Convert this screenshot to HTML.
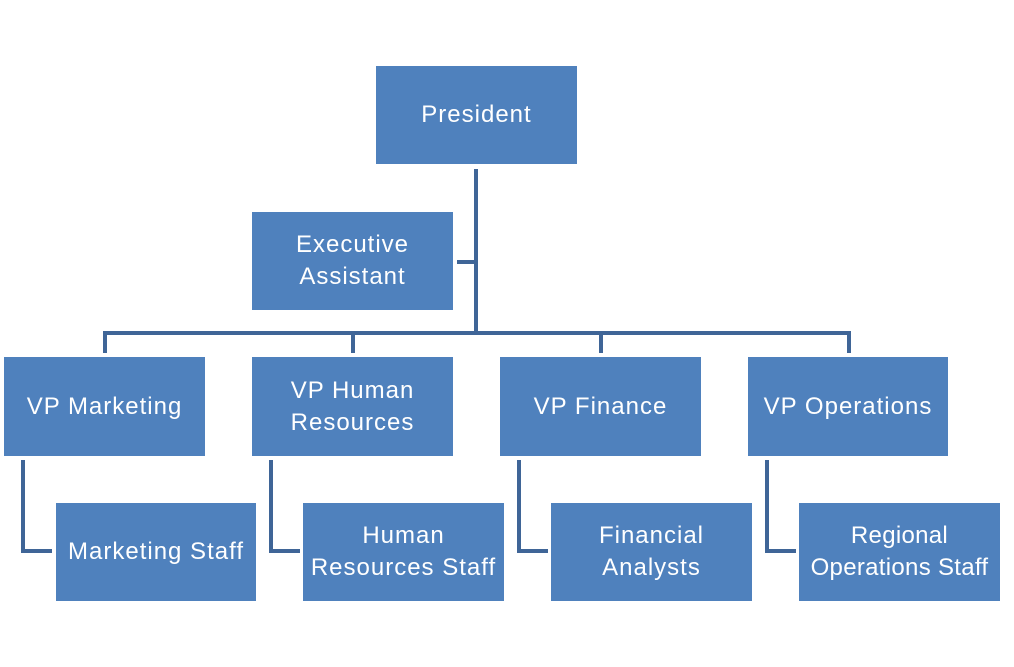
<!DOCTYPE html>
<html><head><style>
body{margin:0;background:#fff;width:1014px;height:667px;position:relative;overflow:hidden;font-family:"Liberation Sans",sans-serif}
.b{position:absolute;background:#4F81BD;color:#fff;display:flex;align-items:center;justify-content:center;text-align:center;font-size:24px;letter-spacing:1px;line-height:32px}
svg{position:absolute;left:0;top:0}
</style></head><body>
<svg width="1014" height="667"><g stroke="#3F6597" stroke-width="4" fill="none">
<path d="M476 169V333M457 262H476M105 333H849M105 331V353M353 331V353M601 331V353M849 331V353"/>
<path d="M23 460V551H52M271 460V551H300M519 460V551H548M767 460V551H796"/>
</g></svg>
<div class="b" style="left:376px;top:66px;width:201px;height:98px">President</div>
<div class="b" style="left:252px;top:212px;width:201px;height:98px">Executive<br>Assistant</div>
<div class="b" style="left:4px;top:357px;width:201px;height:99px">VP Marketing</div>
<div class="b" style="left:252px;top:357px;width:201px;height:99px">VP Human<br>Resources</div>
<div class="b" style="left:500px;top:357px;width:201px;height:99px">VP Finance</div>
<div class="b" style="left:748px;top:357px;width:200px;height:99px">VP Operations</div>
<div class="b" style="left:56px;top:503px;width:200px;height:98px">Marketing Staff</div>
<div class="b" style="left:303px;top:503px;width:201px;height:98px">Human<br>Resources Staff</div>
<div class="b" style="left:551px;top:503px;width:201px;height:98px">Financial<br>Analysts</div>
<div class="b" style="left:799px;top:503px;width:201px;height:98px;letter-spacing:0.3px">Regional<br>Operations Staff</div>
</body></html>
